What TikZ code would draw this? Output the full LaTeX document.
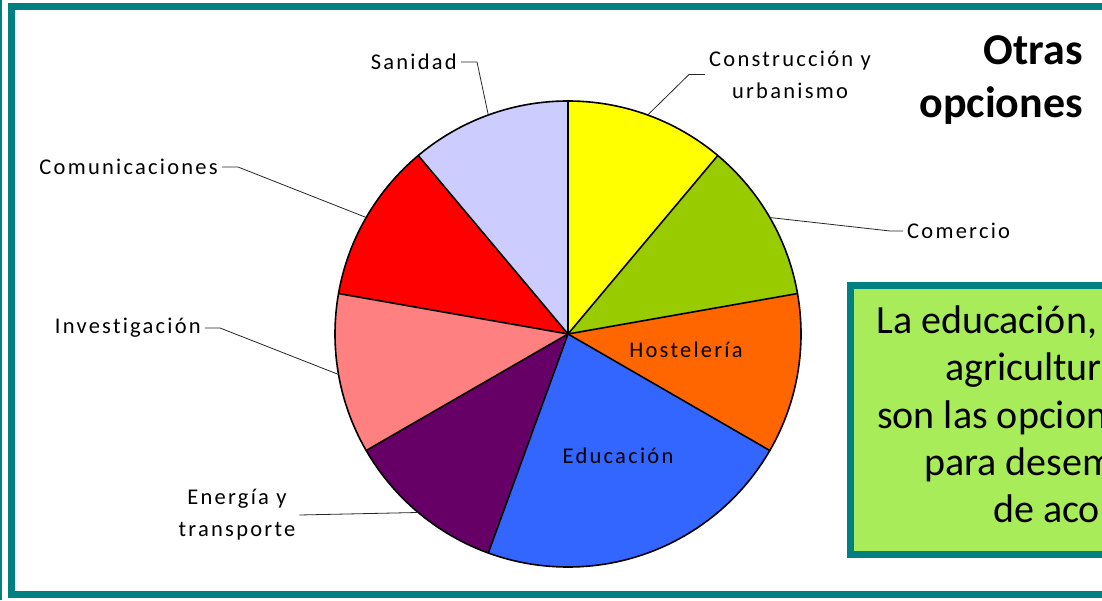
\documentclass[tikz,border=0pt]{standalone}
\usepackage{fontspec}
\setmainfont{Carlito}
\newfontfamily\spacedfont[LetterSpace=10, Ligatures=NoCommon]{Carlito}
\usetikzlibrary{positioning}

\definecolor{frameteal}{HTML}{008080}
\definecolor{boxgreen}{HTML}{A8EC5A}
\definecolor{cyel}{HTML}{FFFF00}
\definecolor{cgreen}{HTML}{99CC00}
\definecolor{corange}{HTML}{FF6600}
\definecolor{cblue}{HTML}{3366FF}
\definecolor{cpurple}{HTML}{660066}
\definecolor{cpink}{HTML}{FF8080}
\definecolor{cred}{HTML}{FF0000}
\definecolor{clav}{HTML}{CCCCFF}
\newcommand\lblfont{\spacedfont\fontsize{22.5}{32}\selectfont}

\begin{document}
\begin{tikzpicture}[x=1pt, y=1pt, slice/.style={draw=black, line width=1.6pt, line join=round}, lbl/.style={font=\lblfont, inner sep=4pt}, leader/.style={draw=black!85, line width=.8pt}, boxtxt/.style={font=\fontsize{40}{47}\selectfont, inner sep=0pt, anchor=base west}]
\useasboundingbox (0,0) rectangle (1102,600);
\clip (0,0) rectangle (1102,600);
% frame and text box
\draw[frameteal, line width=2pt] (1,0) -- (1,600);
\draw[frameteal, line width=7pt] (11.5,5.5) rectangle (1120,593.5);
\draw[frameteal, fill=boxgreen, line width=7pt] (850.5,45.5) rectangle (1120,314.5);
% pie
\coordinate (O) at (568,266);
\foreach \a/\b/\c in {90/50/cyel, 50/10/cgreen, 10/-30/corange, -30/-110/cblue, -110/-150/cpurple, -150/-190/cpink, 170/130/cred, 130/90/clav}{
    \fill[\c] (O) -- ++(\a:233) arc[start angle=\a, end angle=\b, radius=233] -- cycle;}
\draw[slice] (O) circle (233);
\foreach \a in {90, 50, 10, -30, -110, -150, 170, 130}{
    \draw[slice] (O) -- ++(\a:233);}
\foreach \t in {110, 70, 30, 150, 190, 230}{
    \path (O) ++(\t:233) coordinate (p\t);}
% labels
\node[lbl, anchor=east] (san) at (461,538) {Sanidad};
\node[lbl, align=center] (cons) at (790,525.5) {Construcción y\\urbanismo};
\node[lbl, anchor=west] (com) at (903,369) {Comercio};
\node[lbl, anchor=east] (comu) at (222,433) {Comunicaciones};
\node[lbl, anchor=east] (inv) at (205,272) {Investigación};
\node[lbl, align=center] (ener) at (237,85) {Energía y\\transporte};
\node[lbl] (host) at (686,250) {Hostelería};
\node[lbl] (edu) at (618,144) {Educación};
\draw[leader] (san.east) -- ++(16,0) -- (p110);
\draw[leader] (cons.west) -- ++(-16,0) -- (p70);
\draw[leader] (com.west) -- ++(-13,0) -- (p30);
\draw[leader] (comu.east) -- ++(16,0) -- (p150);
\draw[leader] (inv.east) -- ++(15,0) -- (p190);
\draw[leader] (ener.east) -- (p230);
% title
\node[font=\bfseries\fontsize{44}{53}\selectfont, anchor=base east, inner sep=0pt] (otras) at (1083,535) {Otras};
\node[font=\bfseries\fontsize{44}{53}\selectfont, anchor=base east, inner sep=0pt] (opciones) at (1083,482) {opciones};
% box text
\foreach \tx/\x/\y [count=\i] in {{La educación,}/876/266, agricultur/945/219, son las opcion/877/172, para desem/924/125, de aco/993/78}{
    \node[boxtxt] (line\i) at (\x,\y) {\tx};}
\end{tikzpicture}
\end{document}
